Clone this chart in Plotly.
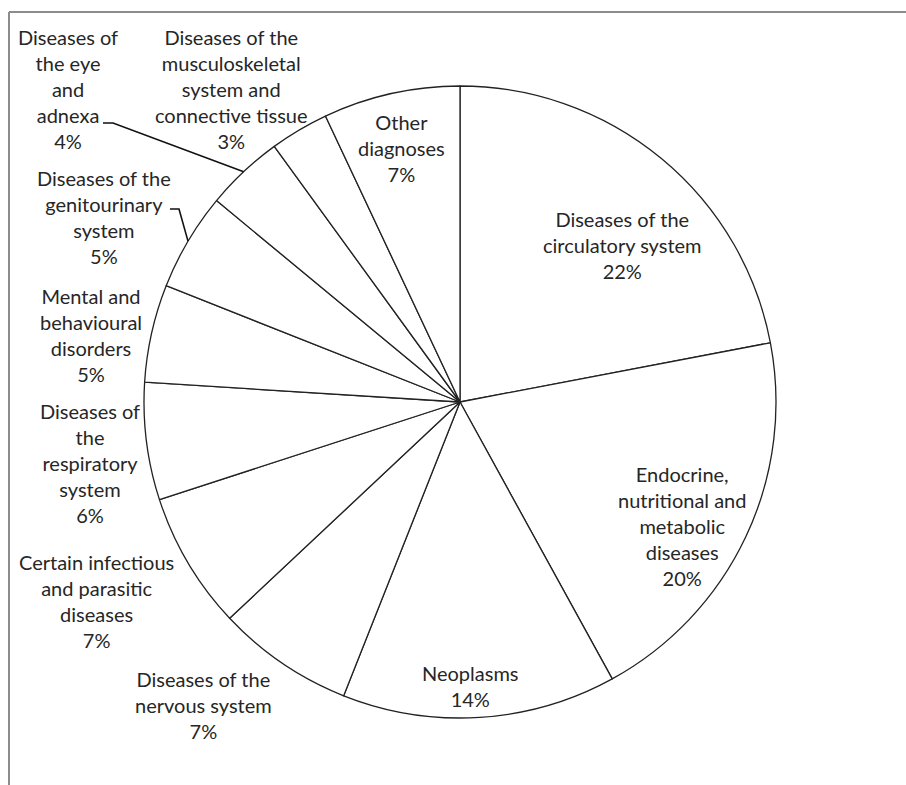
import math
import plotly.graph_objects as go

categories = [
    "Diseases of the circulatory system",
    "Endocrine, nutritional and metabolic diseases",
    "Neoplasms",
    "Diseases of the nervous system",
    "Certain infectious and parasitic diseases",
    "Diseases of the respiratory system",
    "Mental and behavioural disorders",
    "Diseases of the genitourinary system",
    "Diseases of the eye and adnexa",
    "Diseases of the musculoskeletal system and connective tissue",
    "Other diagnoses",
]
values = [22, 20, 14, 7, 7, 6, 5, 5, 4, 3, 7]
label_lines = [
    ["Diseases of the", "circulatory system"],
    ["Endocrine,", "nutritional and", "metabolic", "diseases"],
    ["Neoplasms"],
    ["Diseases of the", "nervous system"],
    ["Certain infectious", "and parasitic", "diseases"],
    ["Diseases of", "the", "respiratory", "system"],
    ["Mental and", "behavioural", "disorders"],
    ["Diseases of the", "genitourinary", "system"],
    ["Diseases of", "the eye", "and", "adnexa"],
    ["Diseases of the", "musculoskeletal", "system and", "connective tissue"],
    ["Other", "diagnoses"],
]

W, H = 906, 785
CX, CY, R = 460, 402, 316

def px(x):
    return x / W

def py(y):
    return 1 - y / H

# label centre positions (pixels), layout only
label_pos = [
    (622, 245), (682, 526), (470, 686), (203, 705), (96, 601), (90, 463),
    (91, 335), (104, 217), (68, 89), (231, 89), (401, 148),
]

fig = go.Figure()
fig.add_trace(go.Pie(
    labels=categories,
    values=values,
    sort=False,
    direction="clockwise",
    rotation=0,
    textinfo="none",
    hoverinfo="label+percent",
    marker=dict(colors=["white"] * len(values), line=dict(color="#222222", width=1.3)),
    domain=dict(x=[px(CX - R), px(CX + R)], y=[py(CY + R), py(CY - R)]),
    showlegend=False,
))

total = sum(values)
annotations = []
for lines, v, (lx, ly) in zip(label_lines, values, label_pos):
    pct = round(100 * v / total)
    text = "<br>".join(lines + [f"{pct}%"])
    annotations.append(dict(
        x=px(lx), y=py(ly), xref="paper", yref="paper", text=text,
        showarrow=False, align="center", xanchor="center", yanchor="middle",
        font=dict(family="Lato", size=20, color="#262626"),
    ))

# leader lines: end point at mid-angle of slice on the arc
cum = []
c = 0
for v in values:
    cum.append(c + v / 2)
    c += v

def arc_point(i):
    ang = 2 * math.pi * cum[i] / total
    return CX + R * math.sin(ang), CY - R * math.cos(ang)

shapes = []
leader_starts = {8: [(103, 123), (113, 123)], 7: [(170, 209), (179, 209)]}
for i, pts in leader_starts.items():
    ex, ey = arc_point(i)
    allp = pts + [(ex, ey)]
    path = "M " + " L ".join(f"{px(x)},{py(y)}" for x, y in allp)
    shapes.append(dict(type="path", path=path, xref="paper", yref="paper",
                       line=dict(color="#111111", width=1.6)))

# frame
shapes.append(dict(type="line", xref="paper", yref="paper", x0=px(9), x1=px(906), y0=py(12), y1=py(12),
                   line=dict(color="#8c8c8c", width=2)))
shapes.append(dict(type="line", xref="paper", yref="paper", x0=px(9), x1=px(9), y0=py(12), y1=py(785),
                   line=dict(color="#8c8c8c", width=2)))

fig.update_layout(
    width=W, height=H,
    margin=dict(l=0, r=0, t=0, b=0),
    paper_bgcolor="white", plot_bgcolor="white",
    annotations=annotations, shapes=shapes,
)
fig.write_html("out.html")
